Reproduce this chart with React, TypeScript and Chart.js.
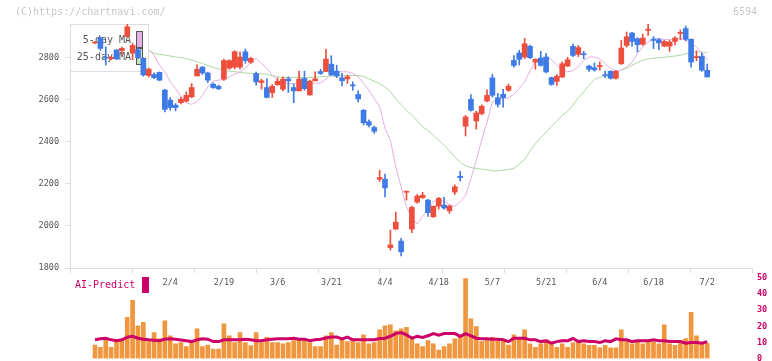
import React, { useEffect, useRef } from 'react';
import { Chart, registerables } from 'chart.js';

Chart.register(...registerables);

// ---- Data (trading days 2025/1/15 .. 2025/7/2, index 0..114) ----
const OPEN = [
  2870, 2895, 2803, 2795, 2837, 2833, 2900, 2821, 2837, 2797,
  2715, 2720, 2730, 2646, 2598, 2574, 2586, 2593, 2614, 2713,
  2755, 2727, 2674, 2664, 2698, 2750, 2755, 2755, 2828, 2778,
  2724, 2682, 2658, 2633, 2671, 2650, 2699, 2658, 2642, 2701,
  2623, 2690, 2734, 2734, 2769, 2736, 2704, 2699, 2669, 2625,
  2550, 2495, 2468, 2222, 2222, 1897, 1985, 1928, 2160, 1985,
  2113, 2135, 2123, 2044, 2094, 2099, 2072, 2161, 2236, 2474,
  2602, 2499, 2534, 2594, 2704, 2610, 2626, 2645, 2787, 2822,
  2803, 2854, 2779, 2798, 2803, 2705, 2687, 2708, 2760, 2854,
  2816, 2818, 2760, 2752, 2758, 2718, 2735, 2702, 2771, 2858,
  2917, 2890, 2864, 2930, 2888, 2885, 2855, 2855, 2877, 2915,
  2938, 2887, 2800, 2806, 2740,
];
const HIGH = [
  2876, 2898, 2852, 2806, 2838, 2850, 2958, 2868, 2845, 2800,
  2750, 2728, 2732, 2649, 2610, 2582, 2612, 2637, 2677, 2766,
  2758, 2731, 2680, 2670, 2793, 2790, 2833, 2828, 2841, 2802,
  2732, 2698, 2701, 2672, 2704, 2709, 2709, 2674, 2736, 2736,
  2693, 2733, 2745, 2840, 2809, 2764, 2725, 2717, 2685, 2642,
  2554, 2505, 2475, 2265, 2246, 1980, 2066, 1941, 2167, 2094,
  2150, 2160, 2127, 2094, 2136, 2136, 2100, 2195, 2260, 2526,
  2625, 2545, 2576, 2647, 2721, 2630, 2650, 2675, 2810, 2835,
  2892, 2860, 2795, 2830, 2820, 2708, 2720, 2780, 2802, 2866,
  2858, 2830, 2765, 2775, 2780, 2735, 2738, 2740, 2882, 2922,
  2920, 2895, 2912, 2958, 2900, 2892, 2882, 2882, 2900, 2932,
  2950, 2890, 2833, 2822, 2770,
];
const LOW = [
  2866, 2835, 2765, 2790, 2790, 2815, 2900, 2790, 2795, 2712,
  2708, 2700, 2690, 2542, 2550, 2547, 2580, 2590, 2610, 2713,
  2720, 2682, 2654, 2648, 2692, 2745, 2747, 2747, 2773, 2773,
  2669, 2650, 2609, 2611, 2669, 2642, 2634, 2586, 2642, 2645,
  2621, 2690, 2720, 2734, 2715, 2705, 2666, 2677, 2645, 2590,
  2480, 2471, 2440, 2211, 2138, 1885, 1983, 1858, 2123, 1968,
  2108, 2130, 2045, 2040, 2080, 2080, 2060, 2150, 2213, 2428,
  2545, 2460, 2528, 2590, 2612, 2565, 2565, 2640, 2755, 2765,
  2795, 2795, 2745, 2760, 2728, 2668, 2668, 2705, 2758, 2805,
  2805, 2795, 2735, 2735, 2740, 2705, 2698, 2698, 2768, 2850,
  2855, 2827, 2858, 2906, 2843, 2838, 2852, 2830, 2860, 2885,
  2880, 2755, 2785, 2735, 2708,
];
const CLOSE = [
  2874, 2844, 2798, 2802, 2794, 2844, 2947, 2858, 2800, 2718,
  2746, 2705, 2693, 2554, 2563, 2563, 2602, 2621, 2658, 2745,
  2727, 2693, 2658, 2652, 2786, 2786, 2828, 2803, 2786, 2797,
  2685, 2690, 2611, 2664, 2688, 2698, 2690, 2642, 2698, 2653,
  2688, 2699, 2725, 2793, 2718, 2713, 2690, 2709, 2666, 2604,
  2490, 2479, 2450, 2230, 2181, 1910, 2018, 1877, 2165, 2088,
  2142, 2146, 2063, 2094, 2131, 2085, 2094, 2186, 2230, 2518,
  2550, 2537, 2569, 2621, 2621, 2578, 2610, 2664, 2763, 2792,
  2866, 2800, 2792, 2763, 2732, 2673, 2711, 2771, 2790, 2811,
  2848, 2814, 2745, 2742, 2763, 2714, 2702, 2735, 2846, 2899,
  2877, 2862, 2893, 2935, 2882, 2870, 2877, 2874, 2893, 2920,
  2887, 2779, 2805, 2740, 2708,
];
const MA5 = [
  null, null, null, null, null, null, null, null, null, null,
  2836, 2812, 2765, 2733, 2685, 2654, 2614, 2585, 2578, 2590,
  2621, 2661, 2688, 2693, 2696, 2709, 2722, 2733, 2749, 2780,
  2796, 2772, 2749, 2717, 2688, 2677, 2679, 2677, 2677, 2677,
  2677, 2679, 2680, 2698, 2722, 2733, 2733, 2733, 2725, 2709,
  2677, 2646, 2606, 2566, 2464, 2407, 2281, 2186, 2091, 2036,
  2009, 2044, 2083, 2115, 2123, 2118, 2099, 2094, 2115, 2146,
  2225, 2313, 2408, 2494, 2592, 2601, 2606, 2609, 2626, 2654,
  2685, 2738, 2780, 2796, 2803, 2791, 2764, 2741, 2733, 2738,
  2757, 2788, 2803, 2803, 2794, 2772, 2749, 2736, 2741, 2757,
  2777, 2820, 2851, 2875, 2888, 2891, 2886, 2886, 2890, 2891,
  2883, 2872, 2849, 2824, 2788,
];
const MA25 = [
  null, null, null, null, null, null, null, null, null, null,
  2836, 2820, 2816, 2812, 2808, 2803, 2800, 2796, 2788, 2780,
  2772, 2764, 2753, 2747, 2741, 2736, 2733, 2730, 2727, 2725,
  2725, 2723, 2720, 2715, 2709, 2706, 2706, 2706, 2706, 2706,
  2706, 2707, 2709, 2711, 2712, 2712, 2714, 2715, 2715, 2715,
  2711, 2699, 2688, 2677, 2660, 2638, 2604, 2577, 2550, 2527,
  2500, 2471, 2455, 2431, 2408, 2384, 2357, 2328, 2302, 2286,
  2278, 2273, 2270, 2267, 2262, 2262, 2265, 2268, 2273, 2294,
  2316, 2355, 2392, 2420, 2445, 2474, 2498, 2526, 2545, 2574,
  2610, 2637, 2669, 2696, 2706, 2715, 2725, 2733, 2741, 2749,
  2764, 2777, 2788, 2794, 2797, 2800, 2802, 2805, 2808, 2811,
  2819, 2825, 2827, 2827, 2824,
];
const VOLUME = [
  8.4, 7.0, 11.6, 7.0, 10.5, 11.6, 25.5, 36.1, 20.3, 22.4,
  10.5, 16.1, 12.2, 23.4, 14.1, 9.1, 9.9, 7.4, 9.9, 18.4,
  7.4, 8.4, 5.9, 5.9, 21.6, 14.1, 9.9, 16.1, 9.9, 8.0,
  16.1, 9.9, 13.2, 9.9, 9.9, 9.1, 9.9, 11.2, 12.0, 11.2,
  9.9, 7.4, 7.4, 14.1, 16.1, 8.4, 12.0, 10.5, 12.0, 9.9,
  14.7, 9.1, 9.9, 17.8, 20.3, 20.9, 17.2, 18.4, 19.3, 12.0,
  9.1, 7.4, 11.2, 9.1, 5.3, 7.4, 9.1, 12.2, 14.1, 49.7,
  24.7, 19.9, 10.5, 11.6, 13.2, 11.6, 10.5, 8.4, 14.7, 12.4,
  17.8, 9.1, 7.0, 9.1, 11.6, 9.1, 7.0, 9.1, 7.0, 9.9,
  9.9, 9.1, 8.2, 8.2, 6.6, 8.2, 6.6, 6.6, 17.8, 11.2,
  9.1, 10.5, 9.1, 10.5, 10.5, 9.1, 20.9, 9.1, 8.2, 11.2,
  12.4, 28.6, 14.1, 9.1, 9.5,
];
const AI_PREDICT = [
  11.6, 12.2, 12.6, 11.6, 11.0, 11.6, 13.3, 13.8, 12.6, 12.0,
  11.6, 11.3, 11.0, 12.0, 12.2, 12.0, 11.5, 11.0, 10.5, 11.6,
  12.2, 12.0, 10.5, 10.5, 11.6, 11.6, 11.6, 11.6, 12.0, 11.6,
  11.0, 11.0, 11.6, 12.0, 12.2, 12.2, 12.2, 12.6, 12.0, 12.0,
  11.0, 11.6, 12.0, 12.8, 13.3, 13.3, 12.2, 13.3, 11.6, 11.6,
  11.6, 11.6, 11.6, 12.4, 12.6, 13.8, 15.5, 16.1, 14.7, 12.6,
  13.8, 13.1, 14.1, 15.5, 14.5, 15.5, 15.5, 15.5, 13.8, 15.5,
  14.1, 12.6, 12.2, 12.2, 12.0, 12.0, 11.6, 10.5, 12.6, 12.6,
  12.6, 11.6, 11.6, 10.5, 11.0, 9.5, 10.5, 11.0, 11.0, 12.4,
  10.5, 11.0, 10.5, 10.5, 9.9, 11.0, 10.5, 12.2, 11.6, 11.6,
  10.5, 11.0, 11.0, 11.0, 11.6, 11.0, 11.0, 10.5, 10.5, 10.5,
  9.5, 9.9, 10.0, 9.5, 10.5,
];
const DATE_LABELS = ['2/4', '2/19', '3/6', '3/21', '4/4', '4/18', '5/7', '5/21', '6/4', '6/18', '7/2'];
const DATE_LABEL_INDEX = [14, 24, 34, 44, 54, 64, 74, 84, 94, 104, 114];
const PRICE_TICKS = [1800, 2000, 2200, 2400, 2600, 2800];
const VOLUME_TICKS = [0, 10, 20, 30, 40, 50];

// ---- Style ----
const FONT = "'DejaVu Sans Mono', monospace";
const RED = '#ee4f3d';
const BLUE = '#3f7be6';
const MA5_COLOR = '#e4aee6';
const MA25_COLOR = '#acd8a0';
const AXIS = '#dddddd';
const TEXT = '#555555';
const MAGENTA = '#cc0066';
const ORANGE = '#f0963e';
const X_MIN = -4.66;
const X_MAX = 122.34;

export default function App() {
  const mainRef = useRef<HTMLCanvasElement>(null);
  const volRef = useRef<HTMLCanvasElement>(null);

  useEffect(() => {
    const idx = OPEN.map((_, i) => i);
    const colors = idx.map((i) => (CLOSE[i] >= OPEN[i] ? RED : BLUE));

    const legendBox = {
      id: 'legendBox',
      beforeDatasetsDraw(chart: any) {
        const { ctx, chartArea } = chart;
        const l = chartArea.left;
        const t = chartArea.top;
        ctx.save();
        ctx.fillStyle = '#ffffff';
        ctx.fillRect(l, t, 78, 47);
        ctx.strokeStyle = AXIS;
        ctx.lineWidth = 1;
        ctx.strokeRect(l + 0.5, t + 0.5, 78, 47);
        ctx.font = `10px ${FONT}`;
        ctx.fillStyle = TEXT;
        ctx.textAlign = 'right';
        ctx.textBaseline = 'middle';
        ctx.fillText('5-day MA', l + 61, t + 16);
        ctx.fillText('25-day MA', l + 61, t + 33);
        ctx.fillStyle = MA5_COLOR;
        ctx.fillRect(l + 66, t + 7, 6, 17);
        ctx.strokeStyle = '#555';
        ctx.strokeRect(l + 66.5, t + 7.5, 6, 16);
        ctx.fillStyle = '#c6e4b8';
        ctx.fillRect(l + 66, t + 24, 6, 17);
        ctx.strokeRect(l + 66.5, t + 24.5, 6, 16);
        ctx.restore();
      },
      afterDraw(chart: any) {
        const { ctx } = chart;
        ctx.save();
        ctx.font = `10px ${FONT}`;
        ctx.fillStyle = '#c8c8c8';
        ctx.textBaseline = 'middle';
        ctx.textAlign = 'left';
        ctx.fillText('(C)https://chartnavi.com/', 15, 12);
        ctx.textAlign = 'right';
        ctx.fillText('6594', 757, 12);
        ctx.restore();
      },
    };

    const main = new Chart(mainRef.current as HTMLCanvasElement, {
      type: 'bar',
      data: {
        datasets: [
          {
            type: 'bar',
            label: 'body',
            data: idx.map((i) => ({ x: i, y: [OPEN[i], CLOSE[i]] })) as any,
            backgroundColor: colors,
            barThickness: 5,
            grouped: false,
            minBarLength: 1,
            borderWidth: 0,
            order: 0,
          } as any,
          {
            type: 'bar',
            label: 'wick',
            data: idx.map((i) => ({ x: i, y: [LOW[i], HIGH[i]] })) as any,
            backgroundColor: colors,
            barThickness: 1,
            grouped: false,
            borderWidth: 0,
            order: 1,
          } as any,
          {
            type: 'line',
            label: '5-day MA',
            data: idx.filter((i) => MA5[i] != null).map((i) => ({ x: i, y: MA5[i] })) as any,
            borderColor: MA5_COLOR,
            borderWidth: 1,
            pointRadius: 0,
            tension: 0,
            order: 2,
          } as any,
          {
            type: 'line',
            label: '25-day MA',
            data: idx.filter((i) => MA25[i] != null).map((i) => ({ x: i, y: MA25[i] })) as any,
            borderColor: MA25_COLOR,
            borderWidth: 1,
            pointRadius: 0,
            tension: 0,
            order: 3,
          } as any,
        ],
      },
      options: {
        responsive: false,
        animation: false,
        layout: { padding: { top: 24, right: 20, bottom: 4, left: 0 } },
        plugins: { legend: { display: false }, tooltip: { enabled: false } },
        scales: {
          x: {
            type: 'linear',
            min: X_MIN,
            max: X_MAX,
            offset: false,
            weight: 0,
            grid: { display: true, drawOnChartArea: false, drawTicks: true, tickLength: 5, color: AXIS, offset: false },
            border: { display: true, color: AXIS },
            ticks: { display: false },
            afterBuildTicks: (s: any) => {
              s.ticks = Array.from({ length: 12 }, (_, k) => ({ value: X_MIN + (k * (X_MAX - X_MIN)) / 11 }));
            },
            afterFit: (s: any) => {
              s.height = 6;
            },
          },
          x2: {
            type: 'linear',
            position: 'bottom',
            min: X_MIN,
            max: X_MAX,
            offset: false,
            weight: 1,
            grid: { display: false, drawTicks: false },
            border: { display: false },
            ticks: {
              autoSkip: false,
              maxRotation: 0,
              padding: 4,
              color: TEXT,
              font: { family: FONT, size: 8.5 },
              callback: (_v: any, index: number) => DATE_LABELS[index],
            },
            afterBuildTicks: (s: any) => {
              s.ticks = DATE_LABEL_INDEX.map((v) => ({ value: v }));
            },
            afterFit: (s: any) => {
              s.height = 22;
            },
          },
          y: {
            type: 'linear',
            position: 'left',
            min: 1800,
            max: 2960,
            grid: { drawOnChartArea: false, drawTicks: true, tickLength: 5, color: AXIS },
            border: { display: true, color: AXIS },
            ticks: {
              color: TEXT,
              padding: 6,
              font: { family: FONT, size: 8.5 },
              callback: (v: any) => String(v),
            },
            afterBuildTicks: (s: any) => {
              s.ticks = PRICE_TICKS.map((v) => ({ value: v }));
            },
            afterFit: (s: any) => {
              s.width = 70;
            },
          },
        },
      } as any,
      plugins: [legendBox],
    });

    const aiLegend = {
      id: 'aiLegend',
      afterDraw(chart: any) {
        const { ctx, chartArea } = chart;
        const t = chartArea.top;
        ctx.save();
        ctx.font = `10px ${FONT}`;
        ctx.fillStyle = MAGENTA;
        ctx.textAlign = 'left';
        ctx.textBaseline = 'middle';
        ctx.fillText('AI-Predict', 75, t + 7);
        ctx.fillRect(142, t - 1, 7, 16);
        ctx.restore();
      },
    };

    const vol = new Chart(volRef.current as HTMLCanvasElement, {
      type: 'bar',
      data: {
        datasets: [
          {
            type: 'line',
            label: 'AI-Predict',
            data: idx.map((i) => ({ x: i, y: AI_PREDICT[i] })) as any,
            borderColor: MAGENTA,
            borderWidth: 3,
            pointRadius: 0,
            tension: 0,
            order: 0,
          } as any,
          {
            type: 'bar',
            label: 'Volume',
            data: idx.map((i) => ({ x: i, y: VOLUME[i] })) as any,
            backgroundColor: ORANGE,
            barThickness: 4,
            grouped: false,
            borderWidth: 0,
            order: 1,
          } as any,
        ],
      },
      options: {
        responsive: false,
        animation: false,
        layout: { padding: { top: 10, right: 0, bottom: 2.5, left: 70 } },
        plugins: { legend: { display: false }, tooltip: { enabled: false } },
        scales: {
          x: { type: 'linear', min: X_MIN, max: X_MAX, offset: false, display: false },
          y: {
            position: 'right',
            min: 0,
            max: 50,
            grid: { display: false, drawTicks: false },
            border: { display: false },
            ticks: {
              padding: 5,
              color: MAGENTA,
              font: { family: FONT, size: 8.5, weight: 'bold' },
              callback: (v: any) => String(v),
            },
            afterBuildTicks: (s: any) => {
              s.ticks = VOLUME_TICKS.map((v) => ({ value: v }));
            },
            afterFit: (s: any) => {
              s.width = 20;
              s.paddingTop = 0;
              s.paddingBottom = 0;
            },
          },
        },
      } as any,
      plugins: [aiLegend],
    });

    return () => {
      main.destroy();
      vol.destroy();
    };
  }, []);

  return (
    <div style={{ position: 'fixed', left: 0, top: 0, width: 772, height: 361, background: '#ffffff', overflow: 'hidden' }}>
      <canvas ref={mainRef} width={772} height={300} style={{ position: 'absolute', left: 0, top: 0, width: 772, height: 300 }} />
      <canvas ref={volRef} width={772} height={93} style={{ position: 'absolute', left: 0, top: 268, width: 772, height: 93 }} />
    </div>
  );
}
